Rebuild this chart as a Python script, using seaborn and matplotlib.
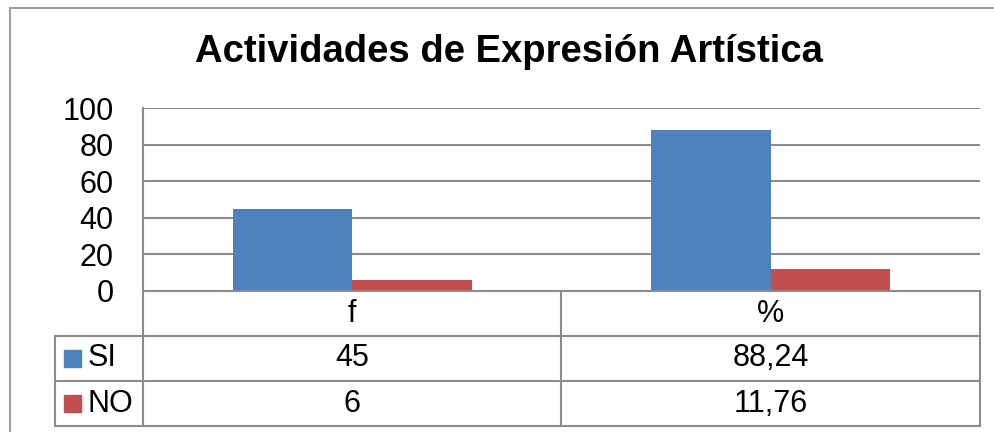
import pandas as pd
import numpy as np
import matplotlib.pyplot as plt
from matplotlib.patches import Rectangle
import seaborn as sns

categories = ['f', '%']
series = ['SI', 'NO']
si_values = [45, 88.24]
no_values = [6, 11.76]
si_labels = ['45', '88,24']
no_labels = ['6', '11,76']
title = 'Actividades de Expresión Artística'

df = pd.DataFrame({
    'cat': categories * 2,
    'serie': [series[0]] * 2 + [series[1]] * 2,
    'valor': si_values + no_values,
})

sns.set_style('white')
plt.rcParams['font.family'] = ['Liberation Sans', 'DejaVu Sans']
plt.rcParams['text.color'] = 'black'
plt.rcParams['ytick.color'] = 'black'
colors = {'SI': '#4F81BD', 'NO': '#C0504D'}
grey = '#8C8C8C'
fs = 22

W, H = 995, 432
fig = plt.figure(figsize=(W / 100, H / 100), dpi=100)

def rect(l, t, r, b):
    return [l / W, 1 - b / H, (r - l) / W, (b - t) / H]

# outer chart border
fig.add_artist(Rectangle((10 / W, -0.1), 1.2, 1 - 8 / H + 0.1, transform=fig.transFigure,
                         fill=False, edgecolor='#A0A0A0', linewidth=1.5))

ax = fig.add_axes(rect(143, 108, 980, 291))
sns.barplot(data=df, x='cat', y='valor', hue='serie', order=categories, hue_order=series,
            palette=colors, saturation=1, width=0.57, gap=0, legend=False,
            linewidth=0, ax=ax)
ax.set_xlim(-0.5, 1.5)
ax.set_ylim(0, 100)
ax.set_yticks(np.arange(0, 101, 20))
ax.yaxis.grid(True, color=grey, linewidth=1.5)
ax.set_axisbelow(True)
ax.tick_params(axis='y', length=0, pad=21, labelsize=fs, labelcolor='black')
ax.set_xticks([])
ax.set_xlabel('')
ax.set_ylabel('')
for s in ['top', 'right']:
    ax.spines[s].set_visible(False)
for s in ['left', 'bottom']:
    ax.spines[s].set_color(grey)
    ax.spines[s].set_linewidth(1.5)

fig.text(509 / W, 1 - 52 / H, title, ha='center', va='center', fontsize=27.5,
         fontweight='bold', color='black')

# data table under the chart
tax = fig.add_axes(rect(143, 291, 980, 426))
tax.set_xlim(-0.5, 1.5)
tax.set_ylim(3, 0)
tax.axis('off')
left = -0.5 - 88 / 418.5
lk = dict(color=grey, linewidth=1.5, clip_on=False, solid_capstyle='projecting')
for yy in [1, 2, 3]:
    tax.plot([left, 1.5], [yy, yy], **lk)
tax.plot([left, left], [1, 3], **lk)
tax.plot([-0.5, -0.5], [0, 3], **lk)
tax.plot([0.5, 0.5], [0, 3], **lk)
tax.plot([1.5, 1.5], [0, 3], **lk)

for i, c in enumerate(categories):
    tax.text(i, 0.5, c, ha='center', va='center', fontsize=fs, color='black')
    tax.text(i, 1.5, si_labels[i], ha='center', va='center', fontsize=fs, color='black')
    tax.text(i, 2.5, no_labels[i], ha='center', va='center', fontsize=fs, color='black')

for r, s in enumerate(series):
    yc = 1.5 + r
    tax.add_patch(Rectangle((left + 9 / 418.5, yc - 0.19), 17 / 418.5, 0.38,
                            color=colors[s], clip_on=False))
    tax.text(left + 33 / 418.5, yc, s, ha='left', va='center', fontsize=fs, color='black')

fig.savefig('out.png', dpi=100)
